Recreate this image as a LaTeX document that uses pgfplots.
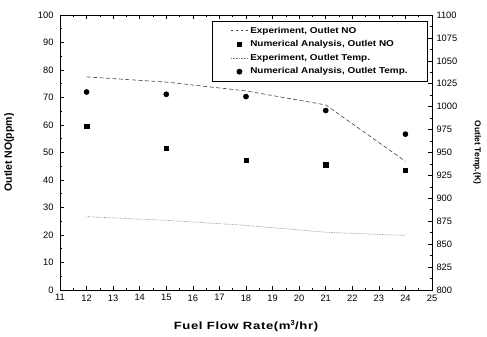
\documentclass[border=0pt]{standalone}
\usepackage{fontspec}
\setmainfont{Liberation Sans}
\newfontfamily\xlabfont[FakeStretch=1.25,LetterSpace=6]{Liberation Sans}
\newfontfamily\legfont[FakeStretch=1.17]{Liberation Sans}
\usepackage{pgfplots}
\pgfplotsset{compat=1.18}
\pgfplotsset{
  base/.style={
    width=372pt, height=275pt, scale only axis,
    xmin=11, xmax=25,
    tick align=inside,
    major tick length=4pt, minor tick length=2pt,
    tick style={black, line width=0.6pt},
    axis line style={black, line width=0.8pt},
    tick label style={font=\fontsize{9.3}{11}\selectfont},
    /pgf/number format/assume math mode=true,
    /pgf/number format/set thousands separator={},
  }
}
\begin{document}
\begin{tikzpicture}
\begin{axis}[base, name=ax,
  ymin=0, ymax=100,
  xtick={11,12,...,25}, minor x tick num=1, xtick pos=both,
  ytick={0,10,...,100}, minor y tick num=1, ytick pos=left,
  yticklabel style={xshift=-3pt},
  xticklabel style={yshift=-1pt},
  xlabel={\xlabfont\bfseries\fontsize{10.5}{12}\selectfont Fuel Flow Rate(m$^{\mathbf{3}}$/hr)},
  ylabel={\bfseries\fontsize{10.5}{12}\selectfont Outlet NO(ppm)},
  every axis x label/.style={at={(axis description cs:0.5,0)}, yshift=-36pt, anchor=center},
  every axis y label/.style={at={(axis description cs:-0.137,0.5)}, rotate=90, anchor=center},
]
\addplot[black!75, line width=0.6pt, dash pattern=on 4pt off 2.5pt] coordinates {
  (12,77.5) (15,75.6) (18,72.4) (21,67.3) (24,46.8)};
\addplot[only marks, mark=square*, mark size=2.2pt, black] coordinates {
  (12,59.6) (15,51.5) (18,47.3) (21,45.5) (24,43.5)};
\end{axis}
\begin{axis}[base,
  axis x line=none, axis y line*=right,
  ymin=800, ymax=1100,
  ytick={800,825,...,1100}, minor y tick num=1, ytick pos=right,
  yticklabel style={xshift=1pt},
  ylabel={\bfseries\fontsize{8.5}{10}\selectfont Outlet Temp.(K)},
  every axis y label/.style={at={(axis description cs:1.121,0.5)}, rotate=-90, anchor=center},
  legend style={at={(rel axis cs:0.989,0.978)}, anchor=north east,
    draw=black, line width=0.6pt, inner xsep=18pt, inner ysep=3pt,
    font=\legfont\bfseries\fontsize{8.5}{9}\selectfont,
    row sep=1pt,
    nodes={inner ysep=2.5pt}},
  legend cell align=left,
]
\addlegendimage{black!75, line width=0.6pt, dash pattern=on 2.5pt off 2.5pt}
\addlegendentry{Experiment, Outlet NO}
\addlegendimage{only marks, mark=square*, mark size=2.2pt, black}
\addlegendentry{Numerical Analysis, Outlet NO}
\addplot[black!55, line width=0.6pt, densely dotted] coordinates {
  (12,880) (15,876) (18,870.5) (21,863) (24,859.5)};
\addlegendentry{Experiment, Outlet Temp.}
\addplot[only marks, mark=*, mark size=2.6pt, black] coordinates {
  (12,1016) (15,1013.5) (18,1011) (21,995.8) (24,970)};
\addlegendentry{Numerical Analysis, Outlet Temp.}
\end{axis}
\path ([shift={(-60pt,-47pt)}]ax.south west) rectangle ([shift={(55pt,15pt)}]ax.north east);
\end{tikzpicture}
\end{document}
